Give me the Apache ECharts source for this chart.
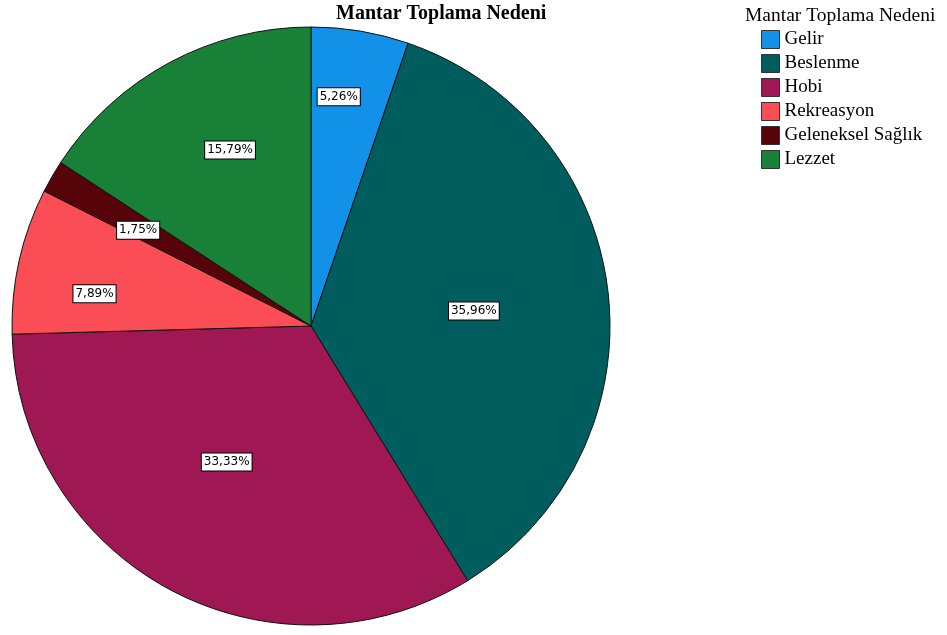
<!DOCTYPE html>
<html>
<head>
<meta charset="utf-8">
<script src="https://cdn.jsdelivr.net/npm/echarts@6/dist/echarts.min.js"></script>
<style>
  html, body { margin: 0; padding: 0; background: #fff; }
  #chart { width: 947px; height: 635px; }
</style>
</head>
<body>
<div id="chart"></div>
<script>
// Reasons for mushroom picking, share of respondents (%)
const categories = ['Gelir', 'Beslenme', 'Hobi', 'Rekreasyon', 'Geleneksel Sağlık', 'Lezzet'];
const percentages = [5.26, 35.96, 33.33, 7.89, 1.75, 15.79];

const sliceColors = ['#1192e8', '#005d5d', '#9f1853', '#fa4d56', '#570408', '#198038'];
// value label placement inside each slice: angle clockwise from 12 o'clock (deg)
// and distance from the centre as a fraction of the pie radius
const labelAngleDeg = [6.9, 84.7, 211.8, 278.5, 299.0, 335.3];
const labelRadiusFrac = [0.772, 0.547, 0.535, 0.732, 0.661, 0.648];

const CX = 311, CY = 326, R = 299;

const chart = echarts.init(document.getElementById('chart'), null, { renderer: 'canvas' });

chart.setOption({
  animation: false,
  backgroundColor: '#ffffff',
  title: [
    {
      text: 'Mantar Toplama Nedeni',
      left: 336, top: 4, padding: 0,
      textStyle: { fontFamily: 'Liberation Serif', fontWeight: 'bold', fontSize: 20, color: '#000' }
    },
    {
      text: 'Mantar Toplama Nedeni',
      left: 745, top: 6, padding: 0,
      textStyle: { fontFamily: 'Liberation Serif', fontWeight: 'normal', fontSize: 19.5, color: '#000' }
    }
  ],
  legend: {
    orient: 'vertical',
    left: 761, top: 30, padding: 0,
    icon: 'rect',
    itemWidth: 18, itemHeight: 18,
    itemGap: 5,
    textStyle: { fontFamily: 'Liberation Serif', fontSize: 19, lineHeight: 18, color: '#000' },
    itemStyle: { borderColor: '#333', borderWidth: 1 },
    data: categories
  },
  series: [{
    type: 'pie',
    center: [CX, CY],
    radius: [0, R],
    startAngle: 90,
    clockwise: true,
    silent: true,
    itemStyle: { borderColor: '#111', borderWidth: 1 },
    label: {
      show: true,
      position: 'inside',
      formatter: p => p.value.toFixed(2).replace('.', ',') + '%',
      fontFamily: 'DejaVu Sans',
      fontSize: 12,
      color: '#000',
      backgroundColor: '#fff',
      borderColor: '#000',
      borderWidth: 1,
      padding: [3, 2, 2, 2]
    },
    labelLine: { show: false },
    labelLayout: function (params) {
      const i = params.dataIndex;
      const a = labelAngleDeg[i] * Math.PI / 180;
      const r = labelRadiusFrac[i] * R;
      return { x: CX + r * Math.sin(a), y: CY - r * Math.cos(a), align: 'center', verticalAlign: 'middle' };
    },
    data: categories.map((name, i) => ({
      name,
      value: percentages[i],
      itemStyle: { color: sliceColors[i] }
    }))
  }]
});
</script>
</body>
</html>
